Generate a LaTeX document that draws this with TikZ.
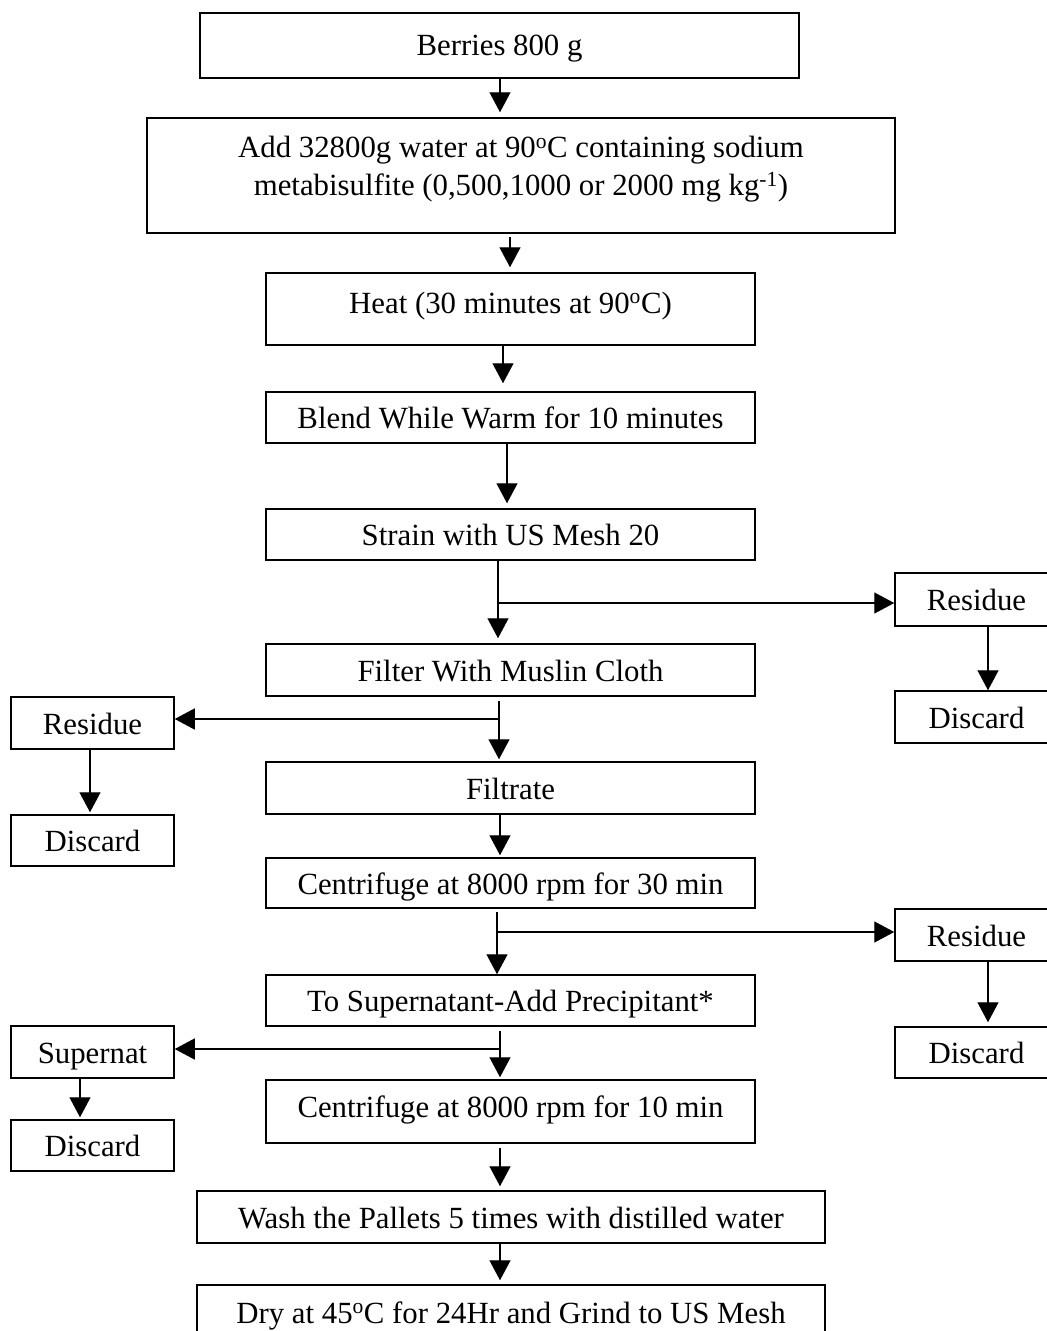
\documentclass[tikz,border=0pt]{standalone}
\usepackage{fontspec}
\setmainfont{Liberation Serif}
\usetikzlibrary{arrows.meta,calc}
\begin{document}
\begin{tikzpicture}[x=1pt,y=-1pt,
  txt/.style={font=\fontsize{30.8}{38}\selectfont,text height=28pt,text depth=6pt,inner sep=0pt},
  box/.style={draw,line width=1.5pt,txt,align=center},
  wide/.style={box,minimum width=489pt},
  side/.style={box,minimum width=163pt},
  arr/.style={line width=1.4pt,-{Triangle[length=20pt,width=21pt]}},
  ln/.style={line width=1.4pt}]
\clip (0,0) rectangle (1047,1331);
\fill[white] (0,0) rectangle (1047,1331);
% main column
\node[box,minimum width=599pt,minimum height=65pt,text height=26pt] (berries) at (499.5,45.5) {Berries 800 g};
\node[draw,line width=1.5pt,minimum width=748pt,minimum height=115pt,
  label={[yshift=6.5pt,align=center,inner sep=0pt,font=\fontsize{30.8}{38}\selectfont]center:Add 32800g water at 90\textsuperscript{o}C containing sodium\\metabisulfite (0,500,1000 or 2000 mg kg\textsuperscript{-1})}] (add) at (521,175.5) {};
\node[wide,minimum height=72pt,
  label={[yshift=7pt,txt]center:Heat (30 minutes at 90\textsuperscript{o}C)}] (heat) at (510.5,309) {};
\node[wide,minimum height=51pt] (blend) at (510.5,417.5) {Blend While Warm for 10 minutes};
\node[wide,minimum height=51pt] (strain) at (510.5,534.5) {Strain with US Mesh 20};
\node[wide,minimum height=52pt] (filter) at (510.5,670) {Filter With Muslin Cloth};
\node[wide,minimum height=52pt] (filtrate) at (510.5,788) {Filtrate};
\node[wide,minimum height=50pt] (cent1) at (510.5,883) {Centrifuge at 8000 rpm for 30 min};
\node[wide,minimum height=51pt] (tosup) at (510.5,1000.5) {To Supernatant-Add Precipitant*};
\node[wide,minimum height=63pt,
  label={[yshift=5.5pt,txt]center:Centrifuge at 8000 rpm for 10 min}] (cent2) at (510.5,1111.5) {};
\node[box,minimum width=628pt,minimum height=52pt] (wash) at (511,1217) {Wash the Pallets 5 times with distilled water};
\node[box,minimum width=628pt,minimum height=56pt,
  label={[yshift=1pt,txt]center:Dry at 45\textsuperscript{o}C for 24Hr and Grind to US Mesh}] (dry) at (511,1313) {};
% right side
\node[side,minimum height=53pt] (res1) at (976.5,599.5) {Residue};
\node[side,minimum height=52pt] (dis1) at (976.5,717) {Discard};
\node[side,minimum height=52pt] (res2) at (976.5,935) {Residue};
\node[side,minimum height=51pt] (dis2) at (976.5,1052.5) {Discard};
% left side
\node[side,minimum height=52pt] (resL) at (92.5,723) {Residue};
\node[side,minimum height=51pt] (disL) at (92.5,840.5) {Discard};
\node[side,minimum height=52pt] (supL) at (92.5,1052) {Supernat};
\node[side,minimum height=51pt] (disL2) at (92.5,1145.5) {Discard};
% branch points
\coordinate (b1) at (498,603);
\coordinate (b2) at (499,719);
\coordinate (b3) at (498,932);
\coordinate (b4) at (500,1049);
% connectors
\draw[arr] (berries.south -| 500,0) -- ([yshift=5pt]add.north -| 500,0);
\draw[arr] ([yshift=-3pt]add.south -| 510,0) -- ([yshift=5pt]heat.north -| 510,0);
\draw[arr] (heat.south -| 503,0) -- ([yshift=8pt]blend.north -| 503,0);
\draw[arr] (blend.south -| 507,0) -- ([yshift=5pt]strain.north -| 507,0);
\draw[arr] (strain.south -| b1) -- ([yshift=5pt]filter.north -| b1);
\draw[arr] (b1) -- (res1.west |- b1);
\draw[arr] (res1.south -| 988,0) -- (dis1.north -| 988,0);
\draw[arr] ([yshift=-4pt]filter.south -| b2) -- ([yshift=2pt]filtrate.north -| b2);
\draw[arr] (b2) -- (resL.east |- b2);
\draw[arr] (resL.south -| 90,0) -- ([yshift=2pt]disL.north -| 90,0);
\draw[arr] (filtrate.south -| 500,0) -- ([yshift=2pt]cent1.north -| 500,0);
\draw[arr] ([yshift=-3pt]cent1.south -| 497,0) -- (tosup.north -| 497,0);
\draw[ln] (b3 -| 497,0) -- (b3);
\draw[arr] (b3) -- (res2.west |- b3);
\draw[arr] (res2.south -| 988,0) -- ([yshift=4pt]dis2.north -| 988,0);
\draw[arr] ([yshift=-4pt]tosup.south -| b4) -- ([yshift=2pt]cent2.north -| b4);
\draw[arr] (b4) -- (supL.east |- b4);
\draw[arr] (supL.south -| 80,0) -- ([yshift=2pt]disL2.north -| 80,0);
\draw[arr] ([yshift=-4pt]cent2.south -| 500,0) -- ([yshift=4pt]wash.north -| 500,0);
\draw[arr] (wash.south -| 500,0) -- ([yshift=4pt]dry.north -| 500,0);
\end{tikzpicture}
\end{document}
